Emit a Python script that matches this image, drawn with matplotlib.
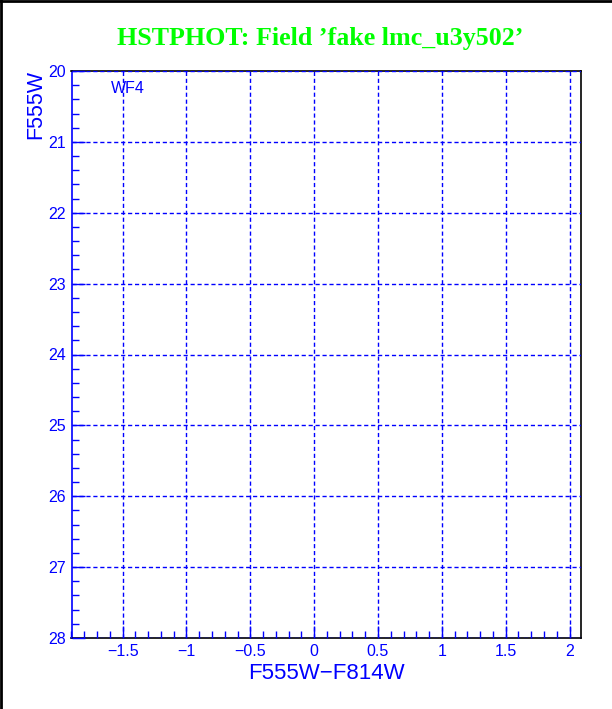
import matplotlib.pyplot as plt
from matplotlib.ticker import MultipleLocator

titleStr = "HSTPHOT: Field \u2019fake lmc_u3y502\u2019"
xLabelStr = "F555W\u2212F814W"
yLabelStr = "F555W"
chipStr = "WF4"
xTicks = [-1.5, -1, -0.5, 0, 0.5, 1, 1.5, 2]
xTickLabels = ["\u22121.5", "\u22121", "\u22120.5", "0", "0.5", "1", "1.5", "2"]
yTicks = [20, 21, 22, 23, 24, 25, 26, 27, 28]
xRange = (-1.9, 2.09)
yRange = (28, 20)

blue = "#0000ff"
green = "#00ff00"

fig = plt.figure(figsize=(6.12, 7.09), dpi=100)
ax = fig.add_axes([71.5 / 612, 1 - 638 / 709, (581 - 71.5) / 612, (638 - 71) / 709])

ax.set_xlim(*xRange)
ax.set_ylim(*yRange)
ax.set_xticks(xTicks)
ax.set_xticklabels(xTickLabels)
ax.set_yticks(yTicks)
ax.xaxis.set_minor_locator(MultipleLocator(0.1))
ax.yaxis.set_minor_locator(MultipleLocator(0.2))

ax.tick_params(
    which="both", direction="in", color=blue, labelcolor=blue,
    top=False, right=False, labelsize=11.5, width=1,
)
ax.tick_params(which="major", length=9, pad=4)
ax.tick_params(which="minor", length=5)
for lab in ax.get_xticklabels() + ax.get_yticklabels():
    lab.set_family("Liberation Sans")

ax.grid(which="major", color=blue, linestyle=(0, (3, 2)), linewidth=1)
ax.set_axisbelow(False)

ax.spines["left"].set_color(blue)
ax.spines["top"].set_color("black")
ax.spines["right"].set_color("black")
ax.spines["bottom"].set_color("black")
for s in ax.spines.values():
    s.set_linewidth(1.2)

ax.set_xlabel(xLabelStr, color=blue, fontsize=16, family="Liberation Sans", labelpad=3)
ax.yaxis.set_label_coords(-0.071, 1.002)
ax.set_ylabel(yLabelStr, color=blue, fontsize=15.5, family="Liberation Sans", ha="right", va="center")

ax.text(0.078, 0.982, chipStr, transform=ax.transAxes, color=blue, fontsize=11.5,
        family="Liberation Sans", va="top", ha="left")

fig.text(0.523, 1 - 38 / 709, titleStr, color=green, fontsize=18.7, fontweight="bold",
         family="Liberation Serif", ha="center", va="center")

# frame lines at top and left of the canvas
fig.add_artist(plt.Line2D([0, 1], [0.999, 0.999], transform=fig.transFigure, color="black", linewidth=2))
fig.add_artist(plt.Line2D([0.001, 0.001], [0, 1], transform=fig.transFigure, color="black", linewidth=2))

plt.savefig("out.png", dpi=100)
